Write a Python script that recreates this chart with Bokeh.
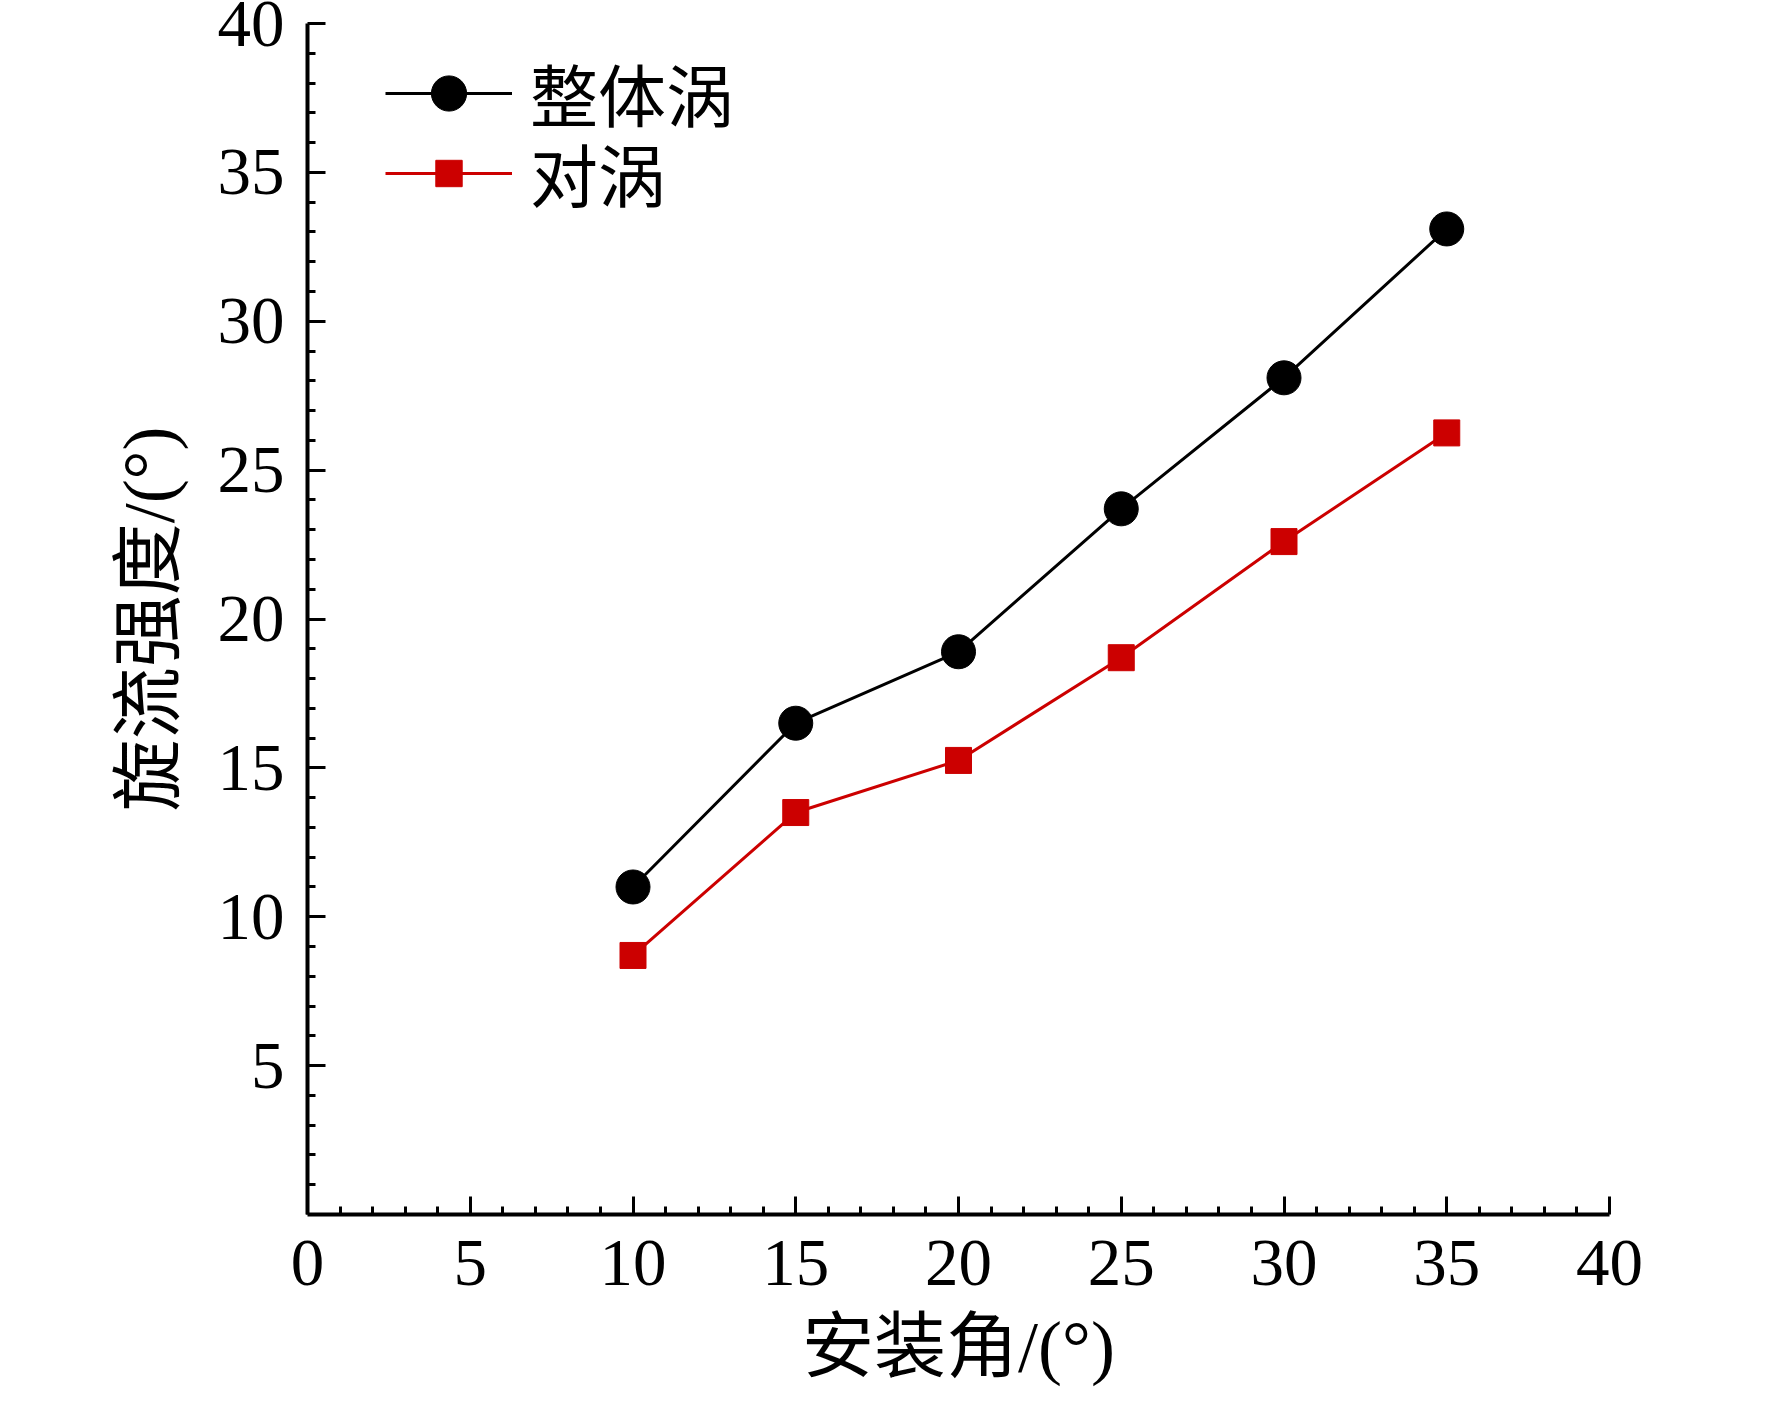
from bokeh.plotting import figure
from bokeh.models import Range1d, FixedTicker, Legend, LegendItem
from bokeh.embed import file_html
from bokeh.resources import INLINE

# ---- data ----
angles = [10, 15, 20, 25, 30, 35]
whole_vortex = [11.0, 16.5, 18.9, 23.7, 28.1, 33.1]
pair_vortex = [8.7, 13.5, 15.25, 18.7, 22.6, 26.25]
series_names = ["整体涡", "对涡"]
x_ticks = [0, 5, 10, 15, 20, 25, 30, 35, 40]
y_ticks = [5, 10, 15, 20, 25, 30, 35, 40]
minor_ticks = [v for v in range(1, 40) if v % 5 != 0]
x_label = "安装角/(°)"
y_label = "旋流强度/(°)"

FONT = "Liberation Serif, Noto Sans CJK SC"
RED = "#CC0000"

p = figure(width=1756, height=1389,
           x_range=Range1d(0, 40), y_range=Range1d(0, 40),
           output_backend="svg", toolbar_location=None,
           min_border_left=307, min_border_right=147,
           min_border_top=23, min_border_bottom=175)
p.xgrid.visible = False
p.ygrid.visible = False
p.outline_line_color = None
p.background_fill_color = "white"
p.border_fill_color = "white"

p.xaxis.ticker = FixedTicker(ticks=x_ticks, minor_ticks=minor_ticks)
p.yaxis.ticker = FixedTicker(ticks=y_ticks, minor_ticks=minor_ticks)
p.xaxis.axis_label = x_label
p.yaxis.axis_label = y_label

for ax in (p.xaxis[0], p.yaxis[0]):
    ax.axis_line_width = 4
    ax.axis_line_color = "black"
    ax.major_tick_line_width = 3
    ax.minor_tick_line_width = 3
    ax.major_tick_line_color = "black"
    ax.minor_tick_line_color = "black"
    ax.major_tick_in = 18
    ax.major_tick_out = 0
    ax.minor_tick_in = 8
    ax.minor_tick_out = 0
    ax.major_label_text_font = "Liberation Serif"
    ax.major_label_text_font_size = "67px"
    ax.major_label_text_color = "black"
    ax.axis_label_text_font = FONT
    ax.axis_label_text_font_size = "72px"
    ax.axis_label_text_font_style = "normal"
    ax.axis_label_text_color = "black"

p.xaxis.major_label_standoff = 26
p.xaxis.axis_label_standoff = 19
p.yaxis.major_label_standoff = 23
p.yaxis.axis_label_standoff = 26

l1 = p.line(angles, whole_vortex, line_color="black", line_width=3)
s1 = p.scatter(angles, whole_vortex, marker="circle", size=34,
               fill_color="black", line_color="black", line_width=1)
l2 = p.line(angles, pair_vortex, line_color=RED, line_width=3)
s2 = p.scatter(angles, pair_vortex, marker="square", size=26,
               fill_color=RED, line_color=RED, line_width=1)

common = dict(glyph_width=127, label_standoff=18, padding=0, margin=0,
              border_line_color=None, background_fill_alpha=0,
              label_text_font=FONT, label_text_font_size="68px",
              label_text_color="black")
leg1 = Legend(items=[LegendItem(label=series_names[0], renderers=[l1, s1])],
              location=(78, 1072), glyph_height=88, label_height=88, **common)
leg2 = Legend(items=[LegendItem(label=series_names[1], renderers=[l2, s2])],
              location=(78, 992), glyph_height=66, label_height=66, **common)
p.add_layout(leg1)
p.add_layout(leg2)

open("out.html", "w").write(file_html(p, INLINE))
